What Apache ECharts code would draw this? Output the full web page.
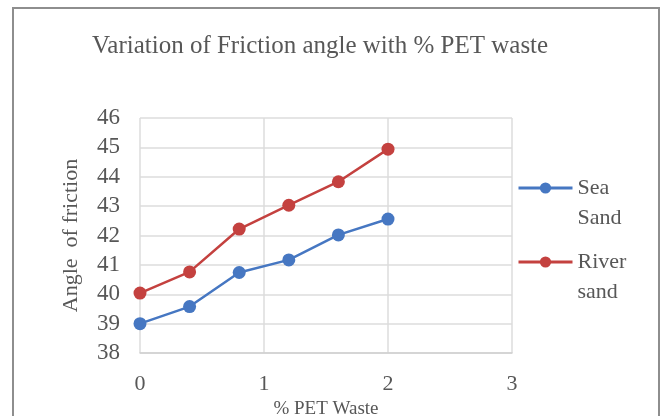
<!DOCTYPE html>
<html>
<head>
<meta charset="utf-8">
<script src="https://cdn.jsdelivr.net/npm/echarts@6/dist/echarts.min.js"></script>
<style>
  html, body { margin: 0; padding: 0; background: #fff; }
  #frame {
    position: absolute; left: 12px; top: 7px; width: 648px; height: 440px;
    border: 2px solid #8e8e8e; box-sizing: border-box;
  }
  #chart { position: absolute; left: 0; top: 0; width: 666px; height: 416px; }
</style>
</head>
<body>
<div id="frame"></div>
<div id="chart"></div>
<script>
// % PET waste added to the sand
const petWaste = [0, 0.4, 0.8, 1.2, 1.6, 2.0];
// Angle of friction (degrees) per sand type
const seaSand = [39.0, 39.58, 40.74, 41.17, 42.02, 42.56];
const riverSand = [40.04, 40.76, 42.22, 43.03, 43.83, 44.94];
const seriesNames = ['Sea Sand', 'River sand'];
const legendLabels = ['Sea\nSand', 'River\nsand'];

const textColor = '#575757';
const serif = '"Liberation Serif", "Times New Roman", serif';

function pairs(xs, ys) { return xs.map((x, i) => [x, ys[i]]); }

// One legend per series; the blank leading line keeps the marker level with the first text line
function legendAt(name, label, top) {
  return {
    data: [name],
    orient: 'vertical',
    left: 512,
    top: top,
    itemWidth: 54,
    itemHeight: 14,
    lineStyle: { width: 3 },
    formatter: () => '\n' + label,
    textStyle: { fontFamily: serif, fontSize: 22, color: textColor, lineHeight: 30 }
  };
}

const chart = echarts.init(document.getElementById('chart'), null, { renderer: 'canvas' });
chart.setOption({
  animation: false,
  backgroundColor: 'transparent',
  title: {
    text: 'Variation of Friction angle with % PET waste',
    left: 87,
    top: 29,
    textStyle: { fontFamily: serif, fontSize: 25, fontWeight: 'normal', color: textColor }
  },
  legend: [
    legendAt(seriesNames[0], legendLabels[0], 138),
    legendAt(seriesNames[1], legendLabels[1], 212)
  ],
  grid: { left: 140, right: 154, top: 118, bottom: 63, outerBoundsMode: 'none', containLabel: false },
  xAxis: {
    type: 'value', min: 0, max: 3, interval: 1,
    name: '% PET Waste', nameLocation: 'middle', nameGap: 44,
    nameTextStyle: { fontFamily: serif, fontSize: 19, color: textColor },
    axisLine: { show: true, lineStyle: { color: '#d0d0d0', width: 1.5 } },
    axisTick: { show: false },
    axisLabel: { fontFamily: serif, fontSize: 22, color: textColor, margin: 20 },
    splitLine: { show: true, lineStyle: { color: '#dcdcdc', width: 1.5 } }
  },
  yAxis: {
    type: 'value', min: 38, max: 46, interval: 1,
    name: 'Angle  of friction', nameLocation: 'middle', nameGap: 58,
    nameTextStyle: { fontFamily: serif, fontSize: 22, color: textColor },
    axisLine: { show: false },
    axisTick: { show: false },
    axisLabel: { fontFamily: serif, fontSize: 23, color: textColor, margin: 20 },
    splitLine: { show: true, lineStyle: { color: '#dcdcdc', width: 1.5 } }
  },
  series: [
    {
      name: seriesNames[0], type: 'line', data: pairs(petWaste, seaSand),
      symbol: 'circle', symbolSize: 13,
      lineStyle: { color: '#4677c2', width: 2.5 },
      itemStyle: { color: '#4677c2' }
    },
    {
      name: seriesNames[1], type: 'line', data: pairs(petWaste, riverSand),
      symbol: 'circle', symbolSize: 13,
      lineStyle: { color: '#c4413f', width: 2.5 },
      itemStyle: { color: '#c4413f' }
    }
  ]
});
</script>
</body>
</html>
